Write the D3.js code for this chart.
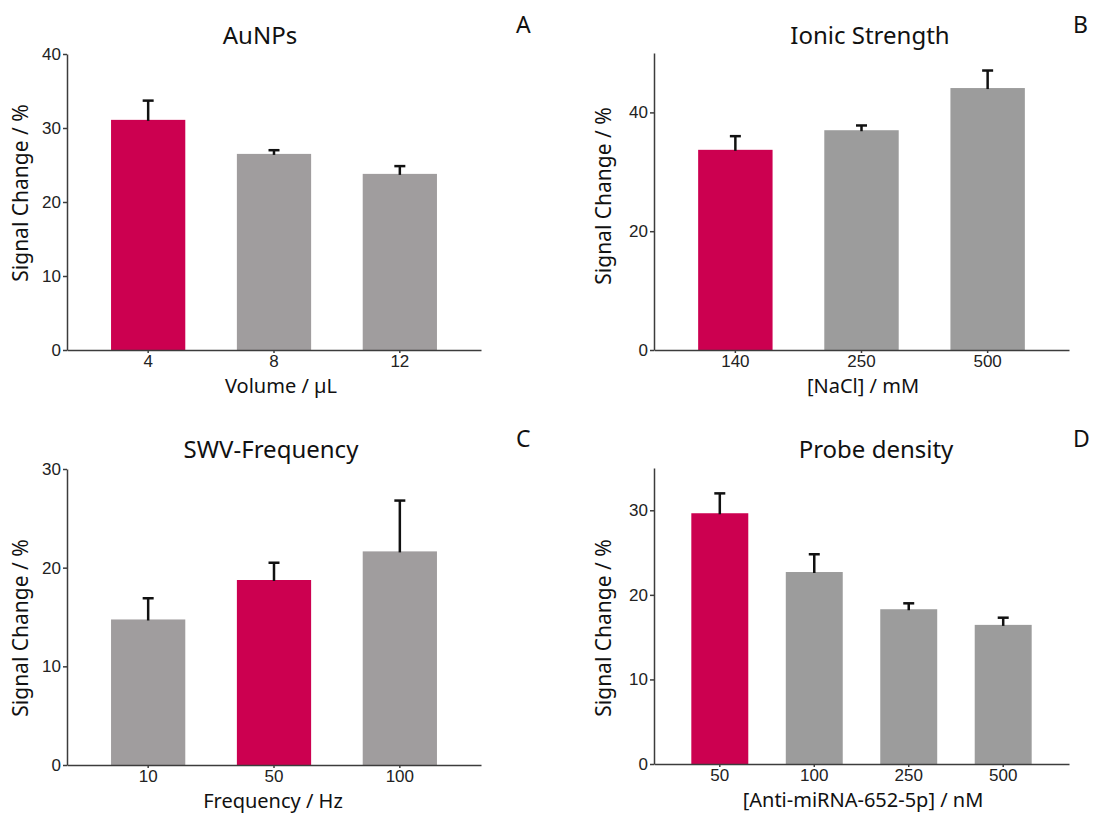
<!DOCTYPE html>
<html>
<head>
<meta charset="utf-8">
<script src="https://cdn.jsdelivr.net/npm/d3@7"></script>
<style>
  body { margin: 0; background: #fff; }
  svg { font-family: "Noto Sans", "Open Sans", sans-serif; }
  .axis path, .axis line { stroke: #3c3c3c; stroke-width: 1.5; }
  .axis text { font-size: 17px; fill: #222; }
</style>
</head>
<body>
<svg id="chart" width="1097" height="818"></svg>
<script>
// panel A - AuNPs
var auCats = ['4', '8', '12'];
var auVals = [31.1, 26.5, 23.8];
var auErr = [2.6, 0.5, 1.05];
var auTicks = [0, 10, 20, 30, 40];

// panel B - ionic strength
var naclCats = ['140', '250', '500'];
var naclVals = [33.7, 37.0, 44.1];
var naclErr = [2.3, 0.8, 2.95];
var naclTicks = [0, 20, 40];

// panel C - SWV frequency
var freqCats = ['10', '50', '100'];
var freqVals = [14.75, 18.75, 21.65];
var freqErr = [2.15, 1.75, 5.15];
var freqTicks = [0, 10, 20, 30];

// panel D - probe density
var probeCats = ['50', '100', '250', '500'];
var probeVals = [29.65, 22.7, 18.3, 16.45];
var probeErr = [2.35, 2.1, 0.7, 0.85];
var probeTicks = [0, 10, 20, 30];

var RED = '#cc0050';

var svg = d3.select('#chart');

function drawPanel(p) {
  var g = svg.append('g');

  var x = d3.scaleBand()
    .domain(p.cats)
    .range([p.x0, p.x1])
    .paddingInner(p.pi)
    .paddingOuter(p.po);

  var y = d3.scaleLinear()
    .domain([0, p.yMax])
    .range([p.yBottom, p.yTop]);

  var rows = p.cats.map(function(c, i) {
    return { cat: c, v: p.vals[i], e: p.err[i], hi: i === p.highlight };
  });

  // bars
  g.selectAll('rect.bar')
    .data(rows)
    .enter()
    .append('rect')
    .attr('class', 'bar')
    .attr('x', function(d) { return x(d.cat); })
    .attr('y', function(d) { return y(d.v); })
    .attr('width', x.bandwidth())
    .attr('height', function(d) { return y(0) - y(d.v); })
    .attr('fill', function(d) { return d.hi ? RED : p.grey; });

  // error bars (upper only)
  var eb = g.selectAll('g.err')
    .data(rows)
    .enter()
    .append('g')
    .attr('class', 'err')
    .attr('transform', function(d) { return 'translate(' + (x(d.cat) + x.bandwidth() / 2) + ',0)'; });
  eb.append('line')
    .attr('y1', function(d) { return y(d.v) + 1; })
    .attr('y2', function(d) { return y(d.v + d.e); })
    .attr('stroke', '#111')
    .attr('stroke-width', 2.5);
  eb.append('line')
    .attr('x1', -5.5)
    .attr('x2', 5.5)
    .attr('y1', function(d) { return y(d.v + d.e); })
    .attr('y2', function(d) { return y(d.v + d.e); })
    .attr('stroke', '#111')
    .attr('stroke-width', 2.5);

  // axes
  var yAxis = d3.axisLeft(y)
    .tickValues(p.ticks)
    .tickSize(4)
    .tickPadding(2)
    .tickSizeOuter(0);
  g.append('g')
    .attr('class', 'axis')
    .attr('transform', 'translate(' + p.x0 + ',0)')
    .call(yAxis);

  var xAxis = d3.axisBottom(x)
    .tickSize(3)
    .tickPadding(2)
    .tickSizeOuter(0);
  g.append('g')
    .attr('class', 'axis')
    .attr('transform', 'translate(0,' + p.yBottom + ')')
    .call(xAxis);

  // titles and labels
  g.append('text')
    .attr('x', p.titleX)
    .attr('y', p.titleY)
    .attr('text-anchor', 'middle')
    .attr('font-size', 24)
    .attr('fill', '#111')
    .text(p.title);

  g.append('text')
    .attr('x', p.letterX)
    .attr('y', p.titleY - 11)
    .attr('font-size', 23)
    .attr('fill', '#111')
    .text(p.letter);

  g.append('text')
    .attr('transform', 'translate(' + p.yLabelX + ',' + p.yLabelY + ') rotate(-90)')
    .attr('text-anchor', 'middle')
    .attr('font-size', 21)
    .attr('fill', '#111')
    .text('Signal Change / %');

  g.append('text')
    .attr('x', p.xLabelX)
    .attr('y', p.yBottom + 43)
    .attr('text-anchor', 'middle')
    .attr('font-size', 20)
    .attr('fill', '#111')
    .text(p.xLabel);
}

drawPanel({
  cats: auCats, vals: auVals, err: auErr, ticks: auTicks, yMax: 40, highlight: 0,
  x0: 67, x1: 481, yBottom: 350, yTop: 54, pi: 0.41, po: 0.35, grey: '#a09d9e',
  title: 'AuNPs', titleX: 260, titleY: 44, letter: 'A', letterX: 516,
  yLabelX: 28, yLabelY: 193, xLabel: 'Volume / \u00b5L', xLabelX: 281
});

drawPanel({
  cats: naclCats, vals: naclVals, err: naclErr, ticks: naclTicks, yMax: 50, highlight: 0,
  x0: 654, x1: 1069, yBottom: 350, yTop: 53, pi: 0.41, po: 0.35, grey: '#9c9c9c',
  title: 'Ionic Strength', titleX: 870, titleY: 44, letter: 'B', letterX: 1073,
  yLabelX: 611, yLabelY: 196, xLabel: '[NaCl] / mM', xLabelX: 863
});

drawPanel({
  cats: freqCats, vals: freqVals, err: freqErr, ticks: freqTicks, yMax: 30, highlight: 1,
  x0: 67, x1: 481, yBottom: 765, yTop: 469, pi: 0.41, po: 0.35, grey: '#a09d9e',
  title: 'SWV-Frequency', titleX: 271, titleY: 458, letter: 'C', letterX: 516,
  yLabelX: 28, yLabelY: 628, xLabel: 'Frequency / Hz', xLabelX: 273
});

drawPanel({
  cats: probeCats, vals: probeVals, err: probeErr, ticks: probeTicks, yMax: 35, highlight: 0,
  x0: 654, x1: 1069, yBottom: 764, yTop: 468, pi: 0.397, po: 0.395, grey: '#9c9c9c',
  title: 'Probe density', titleX: 876, titleY: 458, letter: 'D', letterX: 1073,
  yLabelX: 611, yLabelY: 628, xLabel: '[Anti-miRNA-652-5p] / nM', xLabelX: 863
});
</script>
</body>
</html>
